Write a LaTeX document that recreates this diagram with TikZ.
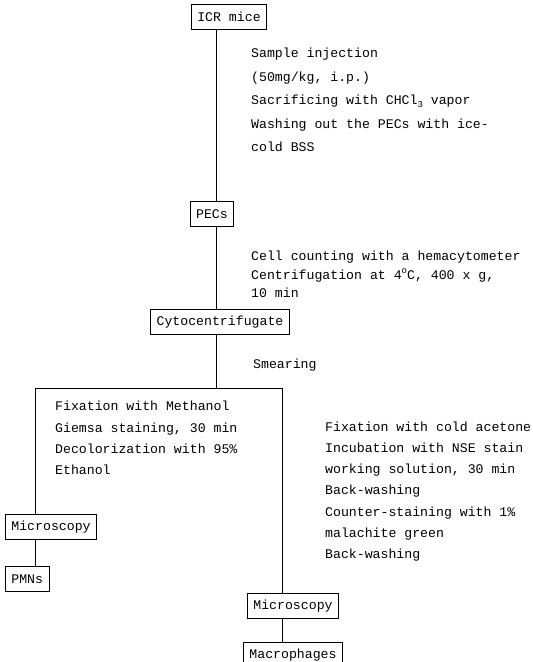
\documentclass[tikz,border=0pt]{standalone}
\usepackage{fontspec}
\setmainfont{Liberation Mono}
\newcommand{\subthree}{\raisebox{-0.45ex}{\fontsize{9}{9}\selectfont 3}}
\newcommand{\degsign}{\raisebox{0.85ex}{\fontsize{9}{9}\selectfont o}}
\begin{document}
\begin{tikzpicture}[x=1pt,y=-1pt,
  stage/.style={draw, line width=0.8pt, font=\fontsize{13.2}{15}\selectfont,
    inner xsep=6pt, inner ysep=0pt, minimum height=25pt},
  note/.style={anchor=west, align=left, inner sep=0pt},
  link/.style={line width=0.9pt}]
\useasboundingbox (0,0) rectangle (533,662);
\fill[white] (0,0) rectangle (533,662);

% stages of the procedure
\node[stage] (icr) at (229,17) {ICR mice};
\node[stage] (pec) at (212,214) {PECs};
\node[stage] (cyto) at (220,322) {Cytocentrifugate};
\coordinate (split) at (216,388);
\coordinate (lft) at (35,388);
\coordinate (rgt) at (282,388);
\node[stage, anchor=west] (micL) at (5,527) {Microscopy};
\node[stage, anchor=west] (pmn) at (5,579) {PMNs};
\node[stage] (micR) at (293,606) {Microscopy};
\node[stage, anchor=north] (mac) at (293,642) {Macrophages};

% connectors
\draw[link] (icr.south -| split) -- (pec.north -| split);
\draw[link] (pec.south -| split) -- (cyto.north -| split);
\draw[link] (cyto.south -| split) -- (split);
\draw[link] (lft) -- (rgt);
\draw[link] (lft) -- (micL.north -| lft);
\draw[link] (micL.south -| lft) -- (pmn.north -| lft);
\draw[link] (rgt) -- (micR.north -| rgt);
\draw[link] (micR.south -| rgt) -- (mac.north -| rgt);

% step descriptions
\node[note, font=\fontsize{13.2}{23.5}\selectfont] (t1) at (251,100)
  {Sample injection\\(50mg/kg, i.p.)\\Sacrificing with CHCl\subthree{} vapor\\Washing out the PECs with ice-\\cold BSS};
\node[note, font=\fontsize{13.2}{18.5}\selectfont] (t2) at (251,274.5)
  {Cell counting with a hemacytometer\\Centrifugation at 4\degsign C, 400 x g,\\10 min};
\node[note, font=\fontsize{13.2}{15}\selectfont] (t3) at (253,365) {Smearing};
\node[note, font=\fontsize{13.2}{21.3}\selectfont] (t4) at (55,438)
  {Fixation with Methanol\\Giemsa staining, 30 min\\Decolorization with 95\%\\Ethanol};
\node[note, font=\fontsize{13.2}{21.2}\selectfont] (t5) at (325,491.5)
  {Fixation with cold acetone\\Incubation with NSE stain\\working solution, 30 min\\Back-washing\\Counter-staining with 1\%\\malachite green\\Back-washing};
\end{tikzpicture}
\end{document}
